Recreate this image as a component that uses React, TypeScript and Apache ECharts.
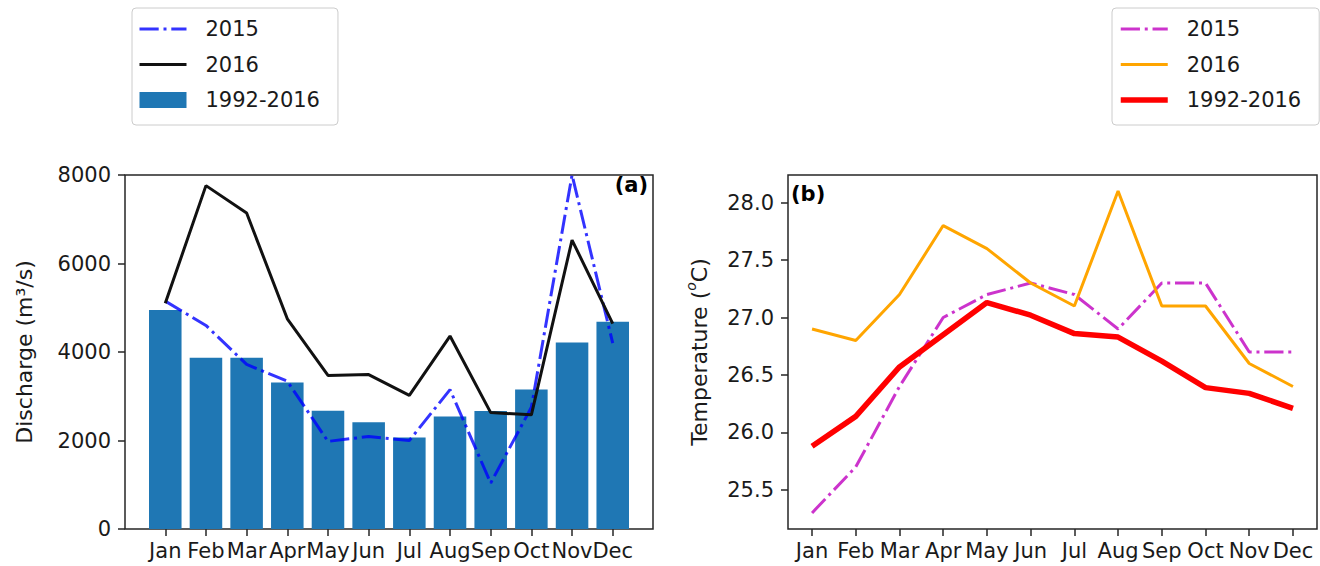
import React, { useEffect, useRef } from "react";
import * as echarts from "echarts";

const months = ["Jan", "Feb", "Mar", "Apr", "May", "Jun", "Jul", "Aug", "Sep", "Oct", "Nov", "Dec"];

// Monthly river discharge (m3/s)
const discharge2015 = [5150, 4600, 3720, 3340, 1980, 2090, 2000, 3150, 1040, 2750, 8000, 4200];
const discharge2016 = [5100, 7760, 7140, 4750, 3470, 3490, 3020, 4360, 2630, 2580, 6530, 4640];
const dischargeClim = [4950, 3870, 3870, 3310, 2670, 2410, 2070, 2545, 2665, 3150, 4215, 4685];

// Monthly temperature (degC)
const temp2015 = [25.3, 25.7, 26.4, 27.0, 27.2, 27.3, 27.2, 26.9, 27.3, 27.3, 26.7, 26.7];
const temp2016 = [26.9, 26.8, 27.2, 27.8, 27.6, 27.3, 27.1, 28.1, 27.1, 27.1, 26.6, 26.4];
const tempClim = [25.88, 26.14, 26.57, 26.85, 27.13, 27.02, 26.86, 26.83, 26.62, 26.39, 26.34, 26.21];

const dischargeTicks = [0, 2000, 4000, 6000, 8000];
const tempTicks = [25.5, 26.0, 26.5, 27.0, 27.5, 28.0];

export default function App() {
  const ref = useRef<HTMLDivElement>(null);

  useEffect(() => {
    const chart = echarts.init(ref.current!, null, { renderer: "svg" });
    const font = "DejaVu Sans";
    const ink = "#1a1a1a";
    const spine = "#262626";
    const dashDot = [19.2, 4.8, 3, 4.8];
    const fs = 21;
    const nameFs = 22;

    // outer frames of both panels
    const L = { left: 125, top: 175, width: 528, height: 354 };
    const R = { left: 788, top: 175, width: 529, height: 354 };
    // bar panel spans x = -0.99 .. 11.99, line panel spans x = -0.55 .. 11.55
    const lUnit = L.width / 12.98;
    const rUnit = R.width / 12.1;
    const lData = { left: L.left + 0.49 * lUnit, width: 12 * lUnit };
    const rData = { left: R.left + 0.55 * rUnit, width: 11 * rUnit };

    const tickStyle = { show: true, inside: false, length: 7, lineStyle: { color: spine, width: 1.5 } };
    const labelStyle = { fontSize: fs, color: ink, fontFamily: font };

    const catAxis = (gridIndex: number, boundaryGap: boolean) => ({
      gridIndex,
      type: "category",
      data: months,
      boundaryGap,
      axisLine: { show: false },
      axisTick: { ...tickStyle, alignWithLabel: true, interval: 0 },
      axisLabel: { ...labelStyle, interval: 0, margin: 11, hideOverlap: false },
      splitLine: { show: false },
    });

    // line entries show only their stroke (at full width), no marker in the middle
    const lineEntry = (name: string, width: number) => ({
      name,
      itemStyle: { opacity: 0 },
      lineStyle: { width },
    });

    const legendBase = {
      orient: "vertical",
      top: 8,
      padding: [10.5, 18, 14.5, 6],
      itemGap: 14.5,
      itemWidth: 47,
      itemHeight: 16,
      borderColor: "#cccccc",
      borderWidth: 1,
      borderRadius: 4,
      selectedMode: false,
      formatter: (n: string) => n.slice(2),
      textStyle: { fontSize: fs, color: ink, fontFamily: font, padding: [0, 0, 0, 14] },
    };

    chart.setOption({
      animation: false,
      textStyle: { fontFamily: font },
      grid: [
        { ...L, show: true, borderColor: spine, borderWidth: 1.5, backgroundColor: "transparent" },
        { left: lData.left, width: lData.width, top: L.top, height: L.height },
        { ...R, show: true, borderColor: spine, borderWidth: 1.5, backgroundColor: "transparent" },
        { left: rData.left, width: rData.width, top: R.top, height: R.height },
      ],
      xAxis: [
        { gridIndex: 0, type: "value", min: 0, max: 1, show: false },
        catAxis(1, true),
        { gridIndex: 2, type: "value", min: 0, max: 1, show: false },
        catAxis(3, false),
      ],
      yAxis: [
        {
          gridIndex: 0,
          type: "value",
          min: 0,
          max: 8000,
          interval: 2000,
          axisLine: { show: false },
          axisTick: { ...tickStyle, customValues: dischargeTicks },
          axisLabel: {
            ...labelStyle,
            margin: 14,
            customValues: dischargeTicks,
            formatter: (v: number) => String(v),
          },
          splitLine: { show: false },
          name: "Discharge (m³/s)",
          nameLocation: "middle",
          nameGap: 90,
          nameTextStyle: { fontSize: nameFs, color: ink, fontFamily: font },
        },
        { gridIndex: 1, type: "value", min: 0, max: 8000, show: false },
        {
          gridIndex: 2,
          type: "value",
          min: 25.16,
          max: 28.24,
          axisLine: { show: false },
          axisTick: { ...tickStyle, customValues: tempTicks },
          axisLabel: {
            ...labelStyle,
            margin: 14,
            customValues: tempTicks,
            formatter: (v: number) => v.toFixed(1),
          },
          splitLine: { show: false },
          name: "{b|Temperature (}{s|o}{b|C)}",
          nameLocation: "middle",
          nameGap: 78,
          nameTextStyle: {
            fontSize: nameFs,
            color: ink,
            fontFamily: font,
            rich: {
              b: { fontSize: nameFs, lineHeight: 26, verticalAlign: "bottom", color: ink, fontFamily: font },
              s: { fontSize: 14, lineHeight: 14, verticalAlign: "top", fontStyle: "italic", color: ink, fontFamily: font },
            },
          },
        },
        { gridIndex: 3, type: "value", min: 25.16, max: 28.24, show: false },
      ],
      legend: [
        {
          ...legendBase,
          left: 132,
          data: [lineEntry("Q 2015", 3), lineEntry("Q 2016", 3), { name: "Q 1992-2016", icon: "rect" }],
        },
        {
          ...legendBase,
          left: 1112,
          data: [lineEntry("T 2015", 3), lineEntry("T 2016", 3), lineEntry("T 1992-2016", 5.5)],
        },
      ],
      graphic: [
        {
          type: "text",
          x: 648,
          y: 174,
          z: 100,
          style: { text: "(a)", fontSize: fs, fontWeight: "bold", fontFamily: font, fill: "#000", align: "right", verticalAlign: "top" },
        },
        {
          type: "text",
          x: 791,
          y: 183,
          z: 100,
          style: { text: "(b)", fontSize: fs, fontWeight: "bold", fontFamily: font, fill: "#000", align: "left", verticalAlign: "top" },
        },
      ],
      series: [
        {
          name: "Q 1992-2016",
          type: "bar",
          xAxisIndex: 1,
          yAxisIndex: 1,
          data: dischargeClim,
          barWidth: "80%",
          itemStyle: { color: "#1f77b4" },
          z: 1,
        },
        {
          name: "Q 2015",
          type: "line",
          xAxisIndex: 1,
          yAxisIndex: 1,
          data: discharge2015,
          symbol: "none",
          itemStyle: { color: "#0000ff" },
          lineStyle: { color: "#0000ff", width: 3, type: dashDot, cap: "butt", opacity: 0.8 },
          z: 3,
        },
        {
          name: "Q 2016",
          type: "line",
          xAxisIndex: 1,
          yAxisIndex: 1,
          data: discharge2016,
          symbol: "none",
          itemStyle: { color: "#111111" },
          lineStyle: { color: "#111111", width: 3 },
          z: 3,
        },
        {
          name: "T 2015",
          type: "line",
          xAxisIndex: 3,
          yAxisIndex: 3,
          data: temp2015,
          symbol: "none",
          itemStyle: { color: "#bf00bf" },
          lineStyle: { color: "#bf00bf", width: 3, type: dashDot, cap: "butt", opacity: 0.8 },
          z: 3,
        },
        {
          name: "T 2016",
          type: "line",
          xAxisIndex: 3,
          yAxisIndex: 3,
          data: temp2016,
          symbol: "none",
          itemStyle: { color: "#ffa500" },
          lineStyle: { color: "#ffa500", width: 3 },
          z: 3,
        },
        {
          name: "T 1992-2016",
          type: "line",
          xAxisIndex: 3,
          yAxisIndex: 3,
          data: tempClim,
          symbol: "none",
          itemStyle: { color: "#ff0000" },
          lineStyle: { color: "#ff0000", width: 5.5 },
          z: 3,
        },
      ],
    });

    return () => chart.dispose();
  }, []);

  return (
    <div
      ref={ref}
      style={{ position: "absolute", left: 0, top: 0, width: 1320, height: 566, background: "#fff" }}
    />
  );
}
